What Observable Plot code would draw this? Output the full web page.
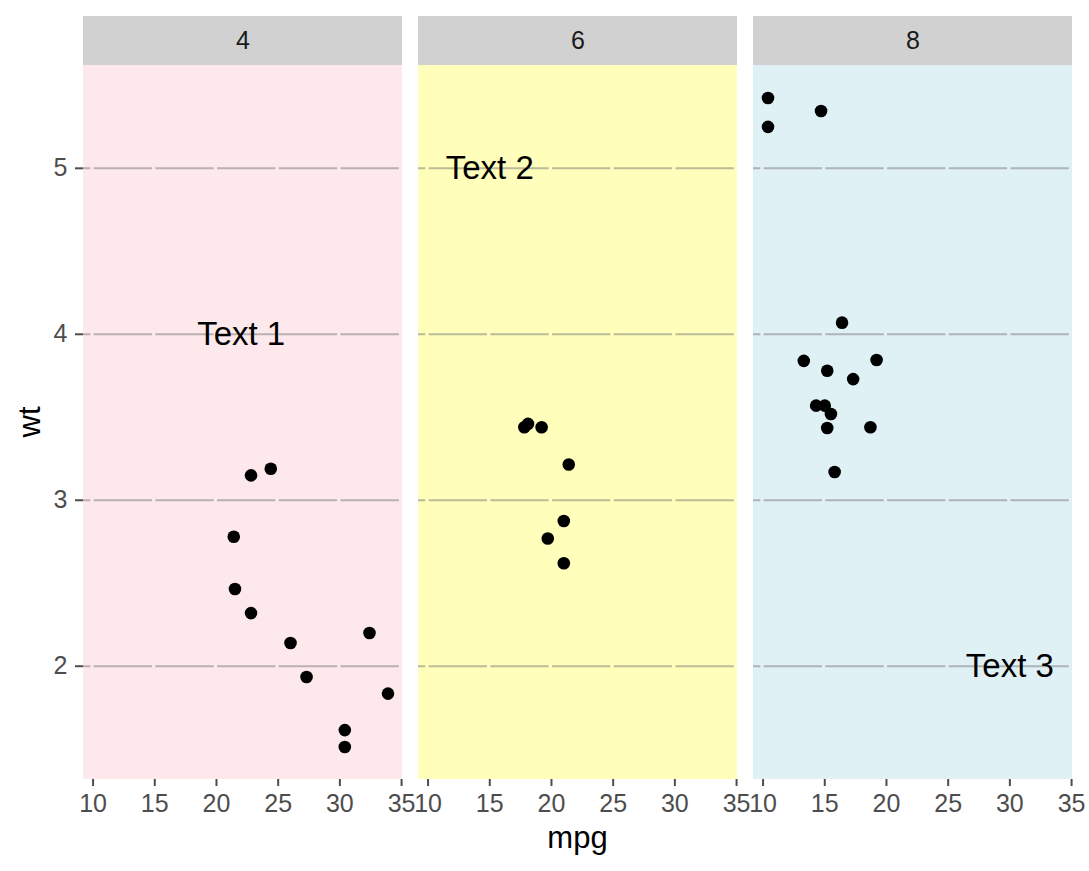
<!DOCTYPE html>
<html>
<head>
<meta charset="utf-8">
<script src="https://cdn.jsdelivr.net/npm/d3@7"></script>
<script src="https://cdn.jsdelivr.net/npm/@observablehq/plot@0.6"></script>
<style>
  html, body { margin: 0; padding: 0; background: #ffffff; }
  #wrap { position: relative; width: 1089px; height: 871px; font-family: "Liberation Sans", Arial, Helvetica, sans-serif; }
  .axtitle { position: absolute; font-size: 31px; line-height: 1; color: #000; white-space: nowrap; }
</style>
</head>
<body>
<div id="wrap">
  <div id="chart"></div>
  <div class="axtitle" id="xtitle" style="left:83px; width:989px; top:822px; text-align:center;">mpg</div>
  <div class="axtitle" id="ytitle" style="left:29px; top:422px; transform: translate(-50%,-50%) rotate(-90deg);">wt</div>
</div>
<script>
// ---- data (mtcars: cyl, mpg, wt) ----
const cyl = [6,6,4,6,8,6,8,4,4,6,6,8,8,8,8,8,8,4,4,4,4,8,8,8,8,4,4,4,8,6,8,4];
const mpg = [21.0,21.0,22.8,21.4,18.7,18.1,14.3,24.4,22.8,19.2,17.8,16.4,17.3,15.2,10.4,10.4,14.7,32.4,30.4,33.9,21.5,15.5,15.2,13.3,19.2,27.3,26.0,30.4,15.8,19.7,15.0,21.4];
const wt  = [2.620,2.875,2.320,3.215,3.440,3.460,3.570,3.190,3.150,3.440,3.440,4.070,3.730,3.780,5.250,5.424,5.345,2.200,1.615,1.835,2.465,3.520,3.435,3.840,3.845,1.935,2.140,1.513,3.170,2.770,3.570,2.780];

const facetLevels = [4, 6, 8];
const panelFill = ["#FDE8EB", "#FFFFBB", "#E0F1F6"];

const annCyl = [4, 6, 8];
const annMpg = [22, 15, 30];
const annWt  = [4, 5, 2];
const annLab = ["Text 1", "Text 2", "Text 3"];

const xTicks = [10, 15, 20, 25, 30, 35];
const yTicks = [2, 3, 4, 5];

// ---- derived tables ----
const cars = cyl.map((c, i) => ({cyl: c, mpg: mpg[i], wt: wt[i]}));
const ann = annCyl.map((c, i) => ({cyl: c, mpg: annMpg[i], wt: annWt[i], lab: annLab[i]}));

// ggplot-style 5% expansion
const [mn, mx] = d3.extent(mpg);
const [wn, wx] = d3.extent(wt);
const xlo = mn - 0.05 * (mx - mn), xhi = mx + 0.05 * (mx - mn);
const ylo = wn - 0.05 * (wx - wn), yhi = wx + 0.05 * (wx - wn);
// strip height relative to panel height (49px strip over 714px panel)
const stripU = (yhi - ylo) * 49 / 714;
const yTop = yhi + stripU;

const panels = facetLevels.map((c, i) => ({cyl: c, fill: panelFill[i], x1: xlo, x2: xhi, y1: ylo, y2: yhi, s1: yhi, s2: yTop, xm: (xlo + xhi) / 2, ym: yhi + stripU / 2, lab: String(c)}));

const chart = Plot.plot({
  width: 1089,
  height: 871,
  marginTop: 16,
  marginBottom: 92,
  marginLeft: 83,
  marginRight: 17,
  style: {fontFamily: "'Liberation Sans', Arial, Helvetica, sans-serif", background: "#ffffff", overflow: "visible"},
  fx: {domain: facetLevels, paddingInner: 16 / 335, paddingOuter: 0, axis: null, label: null, round: false},
  x: {domain: [xlo, xhi], label: null},
  y: {domain: [ylo, yTop], label: null},
  marks: [
    Plot.rect(panels, {fx: "cyl", x1: "x1", x2: "x2", y1: "y1", y2: "y2", fill: "fill"}),
    Plot.rect(panels, {fx: "cyl", x1: "x1", x2: "x2", y1: "s1", y2: "s2", fill: "#D1D1D1"}),
    Plot.text(panels, {fx: "cyl", x: "xm", y: "ym", text: "lab", fontSize: 25, fill: "#1A1A1A"}),
    Plot.gridY(yTicks, {stroke: "#777777", strokeOpacity: 0.5, strokeWidth: 2, strokeDasharray: "58.3,3.4", strokeDashoffset: 51}),
    Plot.axisY(yTicks, {fontSize: 25, tickSize: 8, tickPadding: 8, color: "#4D4D4D", strokeWidth: 2, label: null, tickFormat: d3.format("d")}),
    Plot.axisX(xTicks, {fontSize: 25, tickSize: 7, tickPadding: 8, color: "#4D4D4D", strokeWidth: 2, label: null, tickFormat: d3.format("d")}),
    Plot.dot(cars, {fx: "cyl", x: "mpg", y: "wt", r: 6.3, fill: "#000000", stroke: null}),
    Plot.text(ann, {fx: "cyl", x: "mpg", y: "wt", text: "lab", fontSize: 33, fill: "#000000"})
  ]
});
document.getElementById("chart").appendChild(chart);
</script>
</body>
</html>
